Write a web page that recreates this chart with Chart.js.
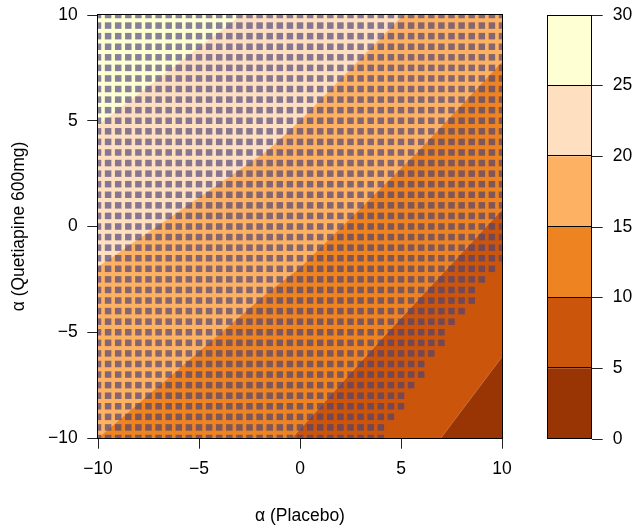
<!DOCTYPE html>
<html><head><meta charset="utf-8">
<script src="https://cdn.jsdelivr.net/npm/chart.js@4.4.1/dist/chart.umd.min.js"></script>
<style>
html,body{margin:0;padding:0;background:#fff;}
#wrap{position:relative;width:640px;height:531px;overflow:hidden;}
#main{position:absolute;left:0;top:0;}
#key{position:absolute;left:520px;top:0;}
</style></head><body>
<div id="wrap"><canvas id="main" width="520" height="531"></canvas><canvas id="key" width="120" height="531"></canvas></div>
<script>
// ---- data ----
const levels = [0, 5, 10, 15, 20, 25, 30];
const bandColors = ['#993404', '#CC550C', '#EE8321', '#FDB163', '#FEDFC0', '#FFFFD4'];
const xTicks = [-10, -5, 0, 5, 10];
const yTicks = [-10, -5, 0, 5, 10];
const keyTicks = [0, 5, 10, 15, 20, 25, 30];

// lower boundary of each band (contour line at that level), as x / y vertices
const line0X = [-10, 10];            const line0Y = [-10, -10];
const line5X = [-10, 6.98, 10];      const line5Y = [-10, -10, -6.17];
const line10X = [-10, -0.4, 4.0, 10]; const line10Y = [-10, -10, -5.35, 0.8];
const line15X = [-10, -1.46, 0, 5.9, 10]; const line15Y = [-10, -3.0, -1.95, 3.62, 7.8];
const line20X = [-10, -1.6, 0, 5.1, 10];  const line20Y = [-1.9, 3.6, 5.0, 10, 10];
const line25X = [-10, -2.9, 10];     const line25Y = [4.8, 10, 10];

// grid of marked points
const gridX = [-10,-9.5,-9,-8.5,-8,-7.5,-7,-6.5,-6,-5.5,-5,-4.5,-4,-3.5,-3,-2.5,-2,-1.5,-1,-0.5,0,0.5,1,1.5,2,2.5,3,3.5,4,4.5,5,5.5,6,6.5,7,7.5,8,8.5,9,9.5,10];
const gridY = [-10,-9.5,-9,-8.5,-8,-7.5,-7,-6.5,-6,-5.5,-5,-4.5,-4,-3.5,-3,-2.5,-2,-1.5,-1,-0.5,0,0.5,1,1.5,2,2.5,3,3.5,4,4.5,5,5.5,6,6.5,7,7.5,8,8.5,9,9.5,10];
// largest x that carries a mark, for each row of gridY
const markMaxX = [4,4,4.5,5,5,5.5,6,6,6.5,7,7,7.5,8,8.5,8.5,9,9.5,10,10,10,10,10,10,10,10,10,10,10,10,10,10,10,10,10,10,10,10,10,10,10,10];

// ---- build ----
const FONT = "'Liberation Sans', Arial, Helvetica, sans-serif";
const FS = 17.5;
const fmt = v => (v < 0 ? '\u2212' + Math.abs(v) : String(v));
const pts = (xs, ys) => xs.map((x, i) => ({x, y: ys[i]}));
const onEdge = (a, b) => (a.y === b.y && Math.abs(a.y) === 10) || (a.x === b.x && Math.abs(a.x) === 10);

const contourLines = [
  [line0X, line0Y], [line5X, line5Y], [line10X, line10Y],
  [line15X, line15Y], [line20X, line20Y], [line25X, line25Y]
];
const datasets = contourLines.map(([xs, ys], i) => ({
  data: pts(xs, ys),
  showLine: true,
  fill: 'end',
  backgroundColor: bandColors[i],
  borderColor: 'rgba(255,236,214,0.25)',
  borderWidth: i === 0 ? 0 : 1,
  segment: {borderColor: c => onEdge(c.p0.parsed, c.p1.parsed) ? 'rgba(0,0,0,0)' : undefined},
  pointRadius: 0,
  order: 20 - i
}));

const marks = [];
gridY.forEach((y, r) => {
  gridX.forEach(x => { if (x <= markMaxX[r]) marks.push({x, y}); });
});
datasets.push({
  data: marks,
  showLine: false,
  pointStyle: 'rect',
  pointRadius: 4.6,
  borderWidth: 0,
  backgroundColor: 'rgba(72,64,118,0.66)',
  clip: 0,
  order: 0
});

const frame = {
  id: 'frame',
  afterDatasetsDraw(chart) {
    const {ctx, chartArea: a} = chart;
    const opt = chart.options.plugins.frame || {};
    ctx.save();
    ctx.strokeStyle = '#000';
    ctx.lineWidth = 1;
    if (opt.bands) {
      const sc = chart.scales.y;
      opt.bands.forEach(v => {
        const p = Math.round(sc.getPixelForValue(v)) - 0.5;
        ctx.beginPath(); ctx.moveTo(a.left, p); ctx.lineTo(a.right, p); ctx.stroke();
      });
    }
    if (opt.inside) {
      ctx.strokeRect(a.left + 0.5, a.top + 0.5, a.right - a.left - 1, a.bottom - a.top - 1);
    } else {
      ctx.strokeRect(a.left - 0.5, a.top - 0.5, a.right - a.left + 1, a.bottom - a.top + 1);
    }
    ctx.restore();
  }
};

const tickFont = {family: FONT, size: FS};
const gridOpt = {display: true, drawOnChartArea: false, drawTicks: true, tickLength: 10.7, color: '#222', lineWidth: 1};
const noPadX = s => { s.paddingLeft = 0; s.paddingRight = 0; };
const noPadY = s => { s.paddingTop = 0; s.paddingBottom = 0; };

new Chart(document.getElementById('main'), {
  type: 'scatter',
  data: {datasets},
  options: {
    responsive: false, animation: false, events: [],
    layout: {padding: {top: 15, right: 18, left: 0, bottom: 0}},
    plugins: {legend: {display: false}, tooltip: {enabled: false}},
    scales: {
      x: {
        type: 'linear', min: -10, max: 10,
        afterBuildTicks: s => { s.ticks = xTicks.map(v => ({value: v})); },
        afterFit: s => { s.height = 93; noPadX(s); },
        grid: gridOpt, border: {display: false},
        ticks: {padding: 10, color: '#000', font: tickFont, callback: fmt, maxRotation: 0, autoSkip: false},
        title: {display: true, text: '\u03b1 (Placebo)', color: '#000', font: tickFont, padding: {top: 0, bottom: 4.5}}
      },
      y: {
        type: 'linear', min: -10, max: 10,
        afterBuildTicks: s => { s.ticks = yTicks.map(v => ({value: v})); },
        afterFit: s => { s.width = 98; noPadY(s); },
        grid: gridOpt, border: {display: false},
        ticks: {padding: 9.5, color: '#000', font: tickFont, callback: fmt, autoSkip: false},
        title: {display: true, text: '\u03b1 (Quetiapine 600mg)', color: '#000', font: tickFont, padding: {top: 9, bottom: 0}}
      }
    }
  },
  plugins: [frame]
});

new Chart(document.getElementById('key'), {
  type: 'bar',
  data: {
    labels: [''],
    datasets: bandColors.map((c, i) => ({
      data: [[levels[i], levels[i + 1]]],
      backgroundColor: c,
      borderWidth: 0,
      inflateAmount: 0,
      grouped: false,
      barPercentage: 1, categoryPercentage: 1
    }))
  },
  options: {
    responsive: false, animation: false, events: [],
    layout: {padding: {top: 15, bottom: 92, left: 27, right: 0}},
    plugins: {legend: {display: false}, tooltip: {enabled: false}, frame: {bands: levels.slice(1, -1), inside: true}},
    scales: {
      x: {display: false},
      y: {
        position: 'right', min: 0, max: 30,
        afterBuildTicks: s => { s.ticks = keyTicks.map(v => ({value: v})); },
        afterFit: s => { s.width = 48; noPadY(s); },
        grid: gridOpt, border: {display: false},
        ticks: {padding: 10, color: '#000', font: tickFont, autoSkip: false}
      }
    }
  },
  plugins: [frame]
});
</script>
</body></html>
